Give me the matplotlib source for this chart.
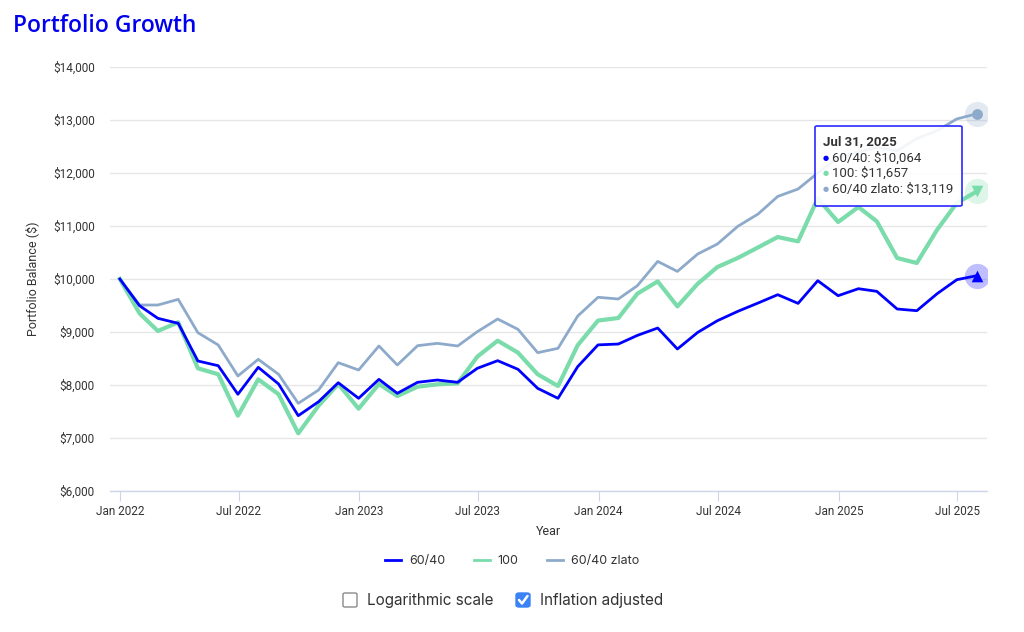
import matplotlib
matplotlib.use("Agg")
import matplotlib.pyplot as plt
from matplotlib.patches import FancyBboxPatch
from matplotlib.lines import Line2D
import pandas as pd

# ---------------- data ----------------
dates = pd.DatetimeIndex([pd.Timestamp("2022-01-01")]).append(
    pd.date_range("2022-01-31", "2025-07-31", freq="ME"))

series_names = ["60/40", "100", "60/40 zlato"]

s_6040 = [10000, 9496, 9258, 9164, 8453, 8364, 7825, 8334, 8019, 7421, 7685, 8043,
          7749, 8107, 7843, 8051, 8094, 8051, 8315, 8459, 8296, 7937, 7749, 8346, 8757,
          8773, 8936, 9075, 8679, 8993, 9213, 9389, 9547, 9704, 9540, 9968,
          9685, 9817, 9767, 9434, 9402, 9723, 9987, 10064]

s_100 = [10000, 9352, 9019, 9183, 8315, 8202, 7421, 8107, 7825, 7088, 7610, 8019,
         7553, 8019, 7792, 7968, 8012, 8031, 8535, 8836, 8610, 8202, 7981, 8750, 9216,
         9264, 9723, 9955, 9483, 9911, 10226, 10396, 10596, 10792, 10710, 11520,
         11075, 11358, 11087, 10396, 10302, 10930, 11434, 11657]

s_zlato = [10000, 9509, 9509, 9616, 8987, 8755, 8170, 8485, 8202, 7654, 7906, 8421,
           8283, 8736, 8377, 8742, 8786, 8736, 9006, 9245, 9050, 8610, 8692, 9300, 9655,
           9623, 9874, 10332, 10143, 10472, 10660, 10993, 11226, 11558, 11698, 12000,
           12290, 12400, 12480, 12420, 12650, 12800, 13020, 13119]

y_ticks = [6000, 7000, 8000, 9000, 10000, 11000, 12000, 13000, 14000]
x_tick_labels = ["Jan 2022", "Jul 2022", "Jan 2023", "Jul 2023",
                 "Jan 2024", "Jul 2024", "Jan 2025", "Jul 2025"]
x_tick_dates = ["2022-01-01", "2022-07-01", "2023-01-01", "2023-07-01",
                "2024-01-01", "2024-07-01", "2025-01-01", "2025-07-01"]
tooltip_date = "Jul 31, 2025"

# ---------------- style ----------------
C_BLUE = "#0000ff"
C_GREEN = "#7adcaa"
C_GREY = "#8eaacb"
TXT = "#333333"

W, H = 1024, 632
fig = plt.figure(figsize=(W / 100, H / 100), dpi=100)
def fx(x): return x / W
def fy(y): return 1 - y / H

ax = fig.add_axes([fx(110), fy(491), fx(987) - fx(110), fy(67) - fy(491)])

ax.plot(dates, s_zlato, color=C_GREY, lw=2.0, zorder=3, solid_joinstyle="round")
ax.plot(dates, s_100, color=C_GREEN, lw=3.0, zorder=4, solid_joinstyle="round")
ax.plot(dates, s_6040, color=C_BLUE, lw=2.0, zorder=5, solid_joinstyle="round")

# hover markers at last point
last = dates[-1]
ax.scatter([last], [s_zlato[-1]], s=330, color=C_GREY, alpha=0.25, lw=0, zorder=6)
ax.scatter([last], [s_zlato[-1]], s=60, color=C_GREY, lw=0, zorder=7)
ax.scatter([last], [s_100[-1]], s=330, color=C_GREEN, alpha=0.25, lw=0, zorder=6)
ax.scatter([last], [s_100[-1]], s=70, color=C_GREEN, marker="v", lw=0, zorder=7)
ax.scatter([last], [s_6040[-1]], s=330, color=C_BLUE, alpha=0.25, lw=0, zorder=6)
ax.scatter([last], [s_6040[-1]], s=70, color=C_BLUE, marker="^", lw=0, zorder=7)

ax.set_ylim(6000, 14000)
ax.set_xlim(pd.Timestamp("2021-12-17"), pd.Timestamp("2025-08-15"))
ax.set_yticks(y_ticks)
ax.set_yticklabels([f"${v:,.0f}" for v in y_ticks], fontfamily="Roboto",
                   fontsize=8.5, color=TXT)
ax.set_xticks([pd.Timestamp(s) for s in x_tick_dates])
ax.set_xticklabels(x_tick_labels, fontfamily="Roboto", fontsize=8.5, color=TXT)

ax.grid(axis="y", color="#e6e6e6", lw=1)
ax.set_axisbelow(True)
for s in ["top", "right", "left"]:
    ax.spines[s].set_visible(False)
ax.spines["bottom"].set_color("#ccd6eb")
ax.spines["bottom"].set_linewidth(1)
ax.tick_params(axis="y", length=0, pad=11)
ax.tick_params(axis="x", length=7, color="#ccd6eb", pad=3)

ax.set_ylabel("Portfolio Balance ($)", fontfamily="Roboto", fontsize=9, color=TXT, labelpad=10)
ax.set_xlabel("Year", fontfamily="Roboto", fontsize=9, color=TXT, labelpad=5)

# title
fig.text(fx(13), fy(26), "Portfolio Growth", fontfamily="Open Sans", fontsize=16.5,
         fontweight="semibold", color="#0000ee", va="center", ha="left")

# legend
handles = [Line2D([], [], color=c, lw=2) for c in (C_BLUE, C_GREEN, C_GREY)]
fig.legend(handles, series_names, loc="center", bbox_to_anchor=(fx(512), fy(561)),
           ncol=3, frameon=False, handlelength=1.3, handletextpad=0.6, columnspacing=2.3,
           prop={"family": "Inter", "size": 9}, labelcolor=TXT)

# tooltip
tip = FancyBboxPatch((fx(815), fy(206)), fx(962) - fx(815), fy(126) - fy(206),
                     boxstyle="round,pad=0,rounding_size=0.002", transform=fig.transFigure,
                     facecolor="white", alpha=0.9, edgecolor="none", zorder=10)
fig.patches.append(tip)
tip_edge = FancyBboxPatch((fx(815), fy(206)), fx(962) - fx(815), fy(126) - fy(206),
                          boxstyle="round,pad=0,rounding_size=0.002", transform=fig.transFigure,
                          facecolor="none", edgecolor="#2a2aff", lw=1.2, zorder=11)
fig.patches.append(tip_edge)
fig.text(fx(823), fy(142), tooltip_date, fontfamily="Roboto", fontweight="bold",
         fontsize=9.5, color=TXT, va="center", zorder=12)
tip_rows = [(C_BLUE, f"{series_names[0]}: ${s_6040[-1]:,}"),
            (C_GREEN, f"{series_names[1]}: ${s_100[-1]:,}"),
            (C_GREY, f"{series_names[2]}: ${s_zlato[-1]:,}")]
for i, (c, t) in enumerate(tip_rows):
    yy = fy(158 + 15.5 * i)
    fig.text(fx(823), yy, "●", fontsize=5, color=c, va="center", zorder=12,
             fontfamily="DejaVu Sans")
    fig.text(fx(832), yy, t, fontfamily="Roboto", fontsize=9.5, color=TXT,
             va="center", zorder=12)

# checkboxes
cb1 = FancyBboxPatch((fx(343), fy(607)), fx(14), fx(14) * W / H,
                     boxstyle="round,pad=0,rounding_size=0.002", transform=fig.transFigure,
                     facecolor="white", edgecolor="#8a8a8a", lw=1)
fig.patches.append(cb1)
fig.text(fx(367), fy(600), "Logarithmic scale", fontfamily="Inter", fontsize=11,
         color=TXT, va="center")
cb2 = FancyBboxPatch((fx(516), fy(607)), fx(14), fx(14) * W / H,
                     boxstyle="round,pad=0,rounding_size=0.003", transform=fig.transFigure,
                     facecolor="#3b82f6", edgecolor="#3b82f6", lw=1)
fig.patches.append(cb2)
fig.lines.append(Line2D([fx(519), fx(522), fx(527.5)], [fy(600), fy(603.5), fy(596)],
                        transform=fig.transFigure, color="white", lw=1.8,
                        solid_capstyle="round", solid_joinstyle="round"))
fig.text(fx(540), fy(600), "Inflation adjusted", fontfamily="Inter", fontsize=11,
         color=TXT, va="center")

fig.savefig("out.png", dpi=100)
